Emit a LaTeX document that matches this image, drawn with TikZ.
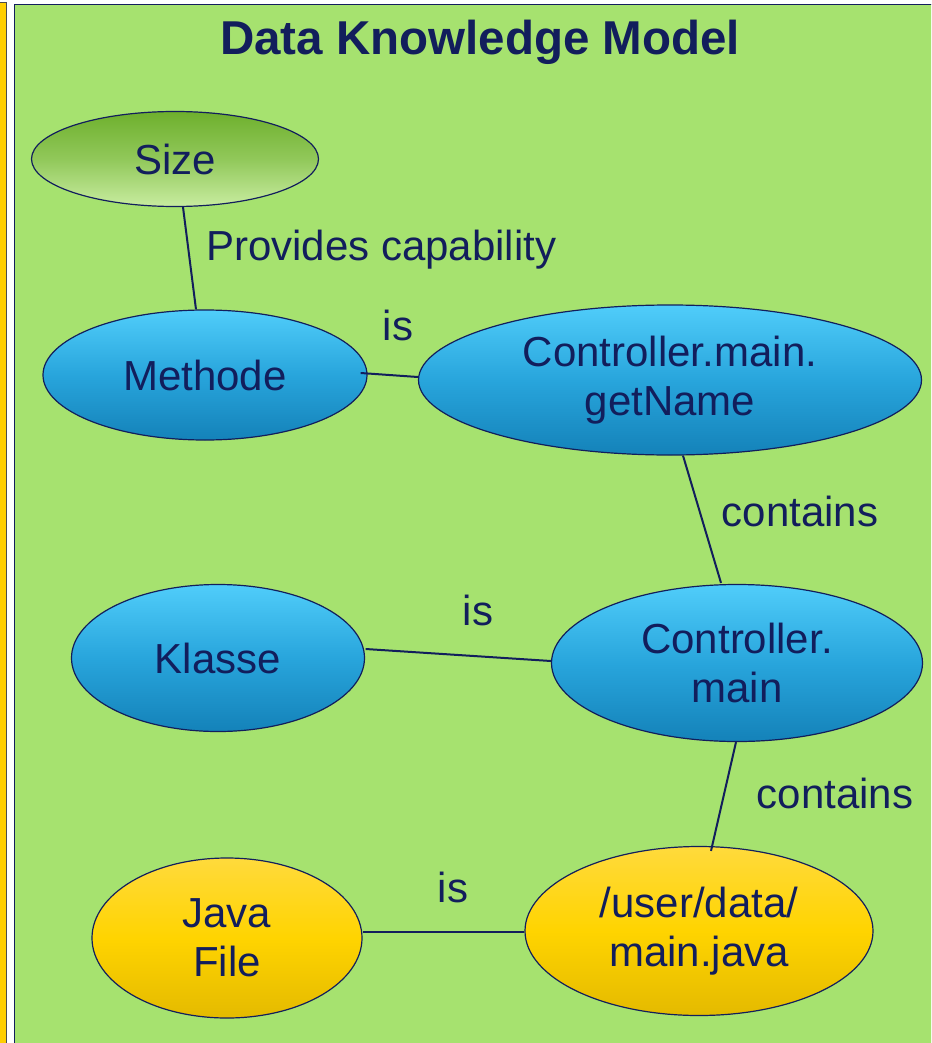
\documentclass[tikz,border=0pt]{standalone}
\usepackage{fontspec}
\setmainfont{Liberation Sans}
\usetikzlibrary{shapes.geometric,calc}
\definecolor{navy}{RGB}{18,30,92}
\definecolor{panelgreen}{RGB}{166,226,111}
\definecolor{stripyellow}{RGB}{255,206,0}
\definecolor{bluetop}{RGB}{80,205,250}
\definecolor{bluemid}{RGB}{40,165,220}
\definecolor{bluebot}{RGB}{20,130,185}
\definecolor{yeltop}{RGB}{255,218,60}
\definecolor{yelmid}{RGB}{255,212,0}
\definecolor{yelbot}{RGB}{228,186,0}
\definecolor{grtop}{RGB}{110,176,45}
\definecolor{grmid}{RGB}{145,200,90}
\definecolor{grbot}{RGB}{200,236,160}
\tikzset{
  ell/.style={ellipse, draw=navy, line width=1.2pt, inner sep=0pt, align=center,
    text=navy, font=\fontsize{42}{49}\selectfont},
  blueell/.style={ell, top color=bluetop, bottom color=bluebot, middle color=bluemid},
  yelell/.style={ell, top color=yeltop, bottom color=yelbot, middle color=yelmid},
  grell/.style={ell, top color=grtop, bottom color=grbot, middle color=grmid},
  conn/.style={draw=navy, line width=2pt},
  lbl/.style={text=navy, font=\fontsize{42}{49}\selectfont, inner sep=0pt},
}
\begin{document}
\begin{tikzpicture}[x=1pt,y=-1pt]
\useasboundingbox (0,0) rectangle (931,1043);
\begin{scope}
\clip (0,0) rectangle (931,1043);
\fill[white] (0,0) rectangle (931,1043);
\fill[stripyellow] (-5,3) rectangle (6.5,1050);
\draw[black!70, line width=1pt] (-5,3) -- (6.5,3) -- (6.5,1050);
\fill[panelgreen] (14.5,4.5) rectangle (940,1050);
\draw[navy, line width=1.5pt] (14.5,1050) -- (14.5,4.5) -- (940,4.5);
\end{scope}
\node[text=navy, font=\bfseries\fontsize{47.5}{55}\selectfont, inner sep=0pt] (title) at (480,42) {Data Knowledge Model};

\node[grell, minimum width=287pt, minimum height=95pt] (size) at (175,159) {Size};
\node[blueell, minimum width=324pt, minimum height=130pt] (methode) at (205,375) {Methode};
\node[blueell, minimum width=503pt, minimum height=150pt] (getname) at (670,380) {Controller.main.\\getName};
\node[blueell, minimum width=293pt, minimum height=147pt] (klasse) at (218,658) {Klasse};
\node[blueell, minimum width=371pt, minimum height=157pt] (cmain) at (737,663) {Controller.\\main};
\node[yelell, minimum width=270pt, minimum height=160pt] (java) at (227,938) {Java\\File};
\node[yelell, minimum width=348pt, minimum height=169pt] (file) at (699,931) {/user/data/\\main.java};

\draw[conn] ($(size.south)+(8,0)$) -- ($(methode.north)+(-9,0)$);
\draw[conn] ($(methode.east)+(-7,-2)$) -- ($(getname.west)+(0,-3)$);
\draw[conn] ($(getname.south)+(13,0)$) -- ($(cmain.north)+(-16,-1)$);
\draw[conn] ($(klasse.east)+(0.5,-9)$) -- ($(cmain.west)+(0,-2)$);
\draw[conn] ($(cmain.south)+(-1,0)$) -- ($(file.north)+(12,5)$);
\draw[conn] ($(java.east)+(0,-6)$) -- ($(file.west)+(0,1)$);

\node[lbl, anchor=west] (lprov) at (206,250) {Provides capability};
\node[lbl] (lis1) at (398,325) {is};
\node[lbl] (lcont1) at (800,511) {contains};
\node[lbl] (lis2) at (478,610) {is};
\node[lbl] (lcont2) at (835,793) {contains};
\node[lbl] (lis3) at (453,887) {is};
\end{tikzpicture}
\end{document}
